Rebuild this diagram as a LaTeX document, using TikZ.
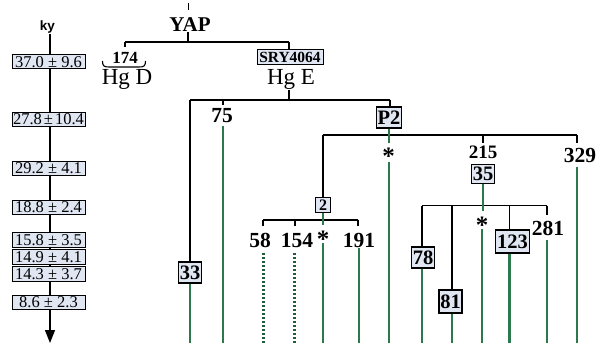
\documentclass[tikz,border=0pt]{standalone}
\usepackage{fontspec}
\setmainfont{Liberation Serif}
\newfontfamily\kysans{Liberation Sans}
\usetikzlibrary{arrows.meta}
\definecolor{grn}{RGB}{42,122,78}
\definecolor{dgrn}{RGB}{30,95,60}
\definecolor{bfill}{RGB}{224,230,242}
\newcommand{\pmsp}{ ± }
\newcommand{\pmtight}{\hspace{2pt}±\hspace{2pt}}
\begin{document}
\begin{tikzpicture}[x=1pt,y=-1pt,
  bl/.style={line width=1.3pt},
  gl/.style={draw=grn,line width=2.6pt},
  dl/.style={draw=dgrn,line width=3pt,line cap=butt,dash pattern=on 2.4pt off 1.6pt},
  kb/.style={draw,fill=bfill,line width=1pt,minimum width=73pt,minimum height=14pt,inner sep=0pt,font=\fontsize{16.5}{16.5}\selectfont},
  nb/.style={draw,fill=bfill,line width=1.3pt,inner xsep=1.3pt,inner ysep=0pt,minimum height=21pt,font=\fontsize{20.5}{20.5}\selectfont\bfseries},
  num/.style={inner sep=0pt,font=\fontsize{21.5}{21.5}\selectfont\bfseries},
  hg/.style={inner sep=0pt,font=\fontsize{23}{23}\selectfont},
  ast/.style={inner sep=0pt,anchor=base,font=\fontsize{25}{25}\selectfont\bfseries},
]
\useasboundingbox (0,0) rectangle (597,345);

% ---- time axis ----
\node[inner sep=0pt,font=\kysans\fontsize{13.5}{14}\selectfont\bfseries] (ky) at (47.5,27) {ky};
\coordinate (axend) at (50,343);
\draw[bl,-{Triangle[length=13pt,width=10pt]}] (50,34) -- (axend);
\node[kb] (k1) at (48.5,62) {37.0\pmsp9.6};
\node[kb] (k2) at (48.5,119) {27.8\pmtight10.4};
\node[kb] (k3) at (48.5,168.5) {29.2\pmsp4.1};
\node[kb] (k4) at (48.5,207.5) {18.8\pmsp2.4};
\node[kb,minimum height=15pt] (k5) at (48.5,240) {15.8\pmsp3.5};
\node[kb,minimum height=15pt] (k6) at (48.5,257) {14.9\pmsp4.1};
\node[kb,minimum height=15pt] (k7) at (48.5,274) {14.3\pmsp3.7};
\node[kb] (k8) at (48.5,302.5) {8.6\pmsp2.3};

% ---- top of tree ----
\coordinate (t0) at (188,3);
\coordinate (t1) at (188,10);
\draw[line width=1pt] (t0) -- (t1);
\node[inner sep=0pt,font=\fontsize{21}{21}\selectfont\bfseries] (yap) at (190,24.5) {YAP};
\coordinate (j0) at (188,42);
\coordinate (jl) at (125,42);
\coordinate (jr) at (289,42);
\draw[bl] (188,32) -- (j0);
\draw[bl] (jl) -- (jr);
\coordinate (jld) at (125,47);
\draw[bl] (jl) -- (jld);
\node[inner sep=0pt,font=\fontsize{17}{17}\selectfont\bfseries] (n174) at (125,58) {174};
\draw[line width=1.1pt] (102.5,61) .. controls (102.5,66) and (104,67) .. (109,67) -- (139,67) .. controls (144,67) and (145.5,66) .. (145.5,61);
\node[hg] (hgd) at (127,79) {Hg D};
\node[draw,fill=bfill,line width=1pt,inner sep=0pt,minimum width=66pt,minimum height=15pt,font=\fontsize{15.5}{15.5}\selectfont\bfseries] (sry) at (290,57.5) {SRY4064};
\draw[bl] (jr) -- (sry.north -| jr);
\node[hg] (hge) at (291,79) {Hg E};

% ---- Hg E subtree ----
\coordinate (e0) at (289,100);
\draw[bl] (289,90) -- (e0);
\coordinate (eL) at (190,100);
\coordinate (eR) at (390,100);
\draw[bl] (eL) -- (eR);
\node[nb] (b33) at (190,272.5) {33};
\draw[bl] (eL) -- (b33);
\coordinate (g33) at (190,343);
\draw[gl] (b33) -- (g33);

\coordinate (e75) at (223,100);
\draw[bl] (e75) -- (223,105);
\node[num] (n75) at (222,116) {75};
\coordinate (g75t) at (223,126);
\coordinate (g75) at (223,343);
\draw[gl] (g75t) -- (g75);

\node[nb] (p2) at (389,117.5) {P2};
\draw[bl] (eR) -- (p2.north -| eR);

% ---- P2 subtree ----
\coordinate (pA) at (323,135);
\coordinate (pB) at (577,135);
\draw[bl] (pA) -- (pB);
\coordinate (ps) at (389,143);
\draw[gl] (p2) -- (ps);
\node[ast] (st1) at (388.5,164) {*};
\coordinate (g1t) at (389,162);
\coordinate (g1) at (389,343);
\draw[gl] (g1t) -- (g1);

\node[nb,font=\fontsize{16}{16}\selectfont\bfseries,inner sep=1pt,minimum height=15pt,minimum width=15pt] (b2) at (323,205) {2};
\draw[bl] (pA) -- (b2);

\coordinate (p215) at (483,135);
\draw[bl] (p215) -- (483,143);
\node[num,font=\fontsize{19}{19}\selectfont\bfseries] (n215) at (483,152.5) {215};
\node[nb,minimum height=19pt] (b35) at (483,174) {35};

\coordinate (p329) at (577,135);
\draw[bl] (p329) -- (577,143);
\node[num] (n329) at (580,155) {329};
\coordinate (g329t) at (577,167);
\coordinate (g329) at (577,343);
\draw[gl] (g329t) -- (g329);

% ---- "2" subtree ----
\coordinate (qA) at (263,220);
\coordinate (qB) at (358,220);
\draw[bl] (qA) -- (qB);
\draw[gl] (b2) -- (323,225);
\draw[bl] (qA) -- (263,226);
\draw[bl] (295,220) -- (295,226);
\draw[bl] (qB) -- (358,226);
\node[num] (n58) at (260,240.5) {58};
\node[num] (n154) at (297,240.5) {154};
\node[ast] (st2) at (323,247) {*};
\node[num] (n191) at (359,240.5) {191};
\coordinate (d58t) at (263,253);
\coordinate (d58) at (263,343);
\draw[dl] (d58t) -- (d58);
\coordinate (d154t) at (294,253);
\coordinate (d154) at (294,343);
\draw[dl] (d154t) -- (d154);
\coordinate (g2t) at (323,243);
\coordinate (g2) at (323,343);
\draw[gl] (g2t) -- (g2);
\coordinate (g191t) at (359,248);
\coordinate (g191) at (359,343);
\draw[gl] (g191t) -- (g191);

% ---- "35" subtree ----
\coordinate (rA) at (422,205.5);
\coordinate (rB) at (547,205.5);
\draw[bl] (rA) -- (rB);
\draw[gl] (b35) -- (483,211);
\node[nb] (b78) at (423,257.5) {78};
\draw[bl] (rA) -- (rA |- b78.north);
\draw[gl] (b78.south -| rA) -- (422,343);
\node[nb,minimum height=23pt] (b81) at (450.5,301.5) {81};
\draw[bl] (452,205.5) -- (b81.north -| 452,0);
\draw[gl] (b81.south -| 452,0) -- (452,343);
\node[ast] (st3) at (482,233) {*};
\coordinate (g3t) at (482,229);
\coordinate (g3) at (482,343);
\draw[gl] (g3t) -- (g3);
\node[nb,minimum height=23pt] (b123) at (512.5,241.5) {123};
\draw[bl] (509.5,205.5) -- (b123.north -| 509.5,0);
\draw[gl] (b123.south -| 509.5,0) -- (509.5,343);
\draw[bl] (rB) -- (547,215);
\node[num] (n281) at (548,228.5) {281};
\coordinate (g281t) at (547,240);
\coordinate (g281) at (547,343);
\draw[gl] (g281t) -- (g281);
\end{tikzpicture}
\end{document}
